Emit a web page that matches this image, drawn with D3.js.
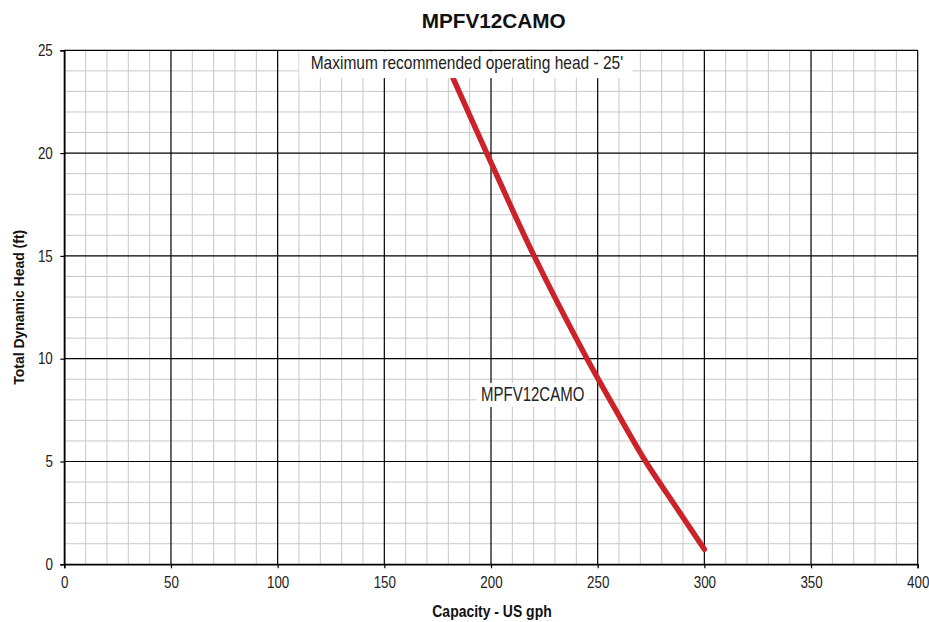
<!DOCTYPE html>
<html><head><meta charset="utf-8">
<script src="https://cdn.jsdelivr.net/npm/d3@7/dist/d3.min.js"></script>
<style>
body{margin:0;background:#fff;}
text{font-family:"Liberation Sans",Arial,sans-serif;}
</style></head>
<body><svg id="c" width="929" height="622"></svg>
<script>
const title = "MPFV12CAMO";
const seriesName = "MPFV12CAMO";
const xLabel = "Capacity - US gph";
const yLabel = "Total Dynamic Head (ft)";
const annotation = "Maximum recommended operating head - 25'";
const xTicks = [0, 50, 100, 150, 200, 250, 300, 350, 400];
const yTicks = [0, 5, 10, 15, 20, 25];
const flow = [180.7, 198, 220.2, 245, 258.5, 272.5, 286, 300];
const head = [24.0, 20, 15, 10, 7.5, 5, 2.9, 0.73];

const svg = d3.select("#c");
const m = {l:64.3, r:917.7, t:50.3, b:564.3};
const x = d3.scaleLinear().domain([0,400]).range([m.l, m.r]);
const y = d3.scaleLinear().domain([0,25]).range([m.b, m.t]);

function condense(sel, f){
  sel.each(function(){
    const w = this.getComputedTextLength();
    d3.select(this).attr("textLength", w*f).attr("lengthAdjust","spacingAndGlyphs");
  });
}

// minor grid
const gMinor = svg.append("g").attr("stroke","#c8c8c8").attr("stroke-width",1);
d3.range(0,401,10).forEach(v=>{ if(v%50) gMinor.append("line").attr("x1",x(v)).attr("x2",x(v)).attr("y1",y(0)).attr("y2",y(25)); });
d3.range(0,26,1).forEach(v=>{ if(v%5) gMinor.append("line").attr("x1",x(0)).attr("x2",x(400)).attr("y1",y(v)).attr("y2",y(v)); });
// major grid
const gMajor = svg.append("g").attr("stroke","#000").attr("stroke-width",1.2);
xTicks.forEach(v=>gMajor.append("line").attr("x1",x(v)).attr("x2",x(v)).attr("y1",y(0)).attr("y2",y(25)));
yTicks.forEach(v=>gMajor.append("line").attr("x1",x(0)).attr("x2",x(400)).attr("y1",y(v)).attr("y2",y(v)));

// axes
const xa = svg.append("g").attr("transform",`translate(0,${y(0)})`)
  .call(d3.axisBottom(x).tickValues(xTicks).tickSize(4).tickPadding(8).tickFormat(d3.format("d")));
const ya = svg.append("g").attr("transform",`translate(${x(0)},0)`)
  .call(d3.axisLeft(y).tickValues(yTicks).tickSize(4).tickPadding(7.5).tickFormat(d3.format("d")));
[xa,ya].forEach(a=>{
  a.select(".domain").attr("stroke","#000").attr("stroke-width",1.5);
  a.selectAll(".tick line").attr("stroke","#000").attr("stroke-width",1.2);
  a.selectAll("text").attr("font-size",16).attr("fill","#222")
   .attr("font-family",'"Liberation Sans",Arial,sans-serif');
  condense(a.selectAll("text"), 0.835);
});

// curve
const pts = flow.map((f,i)=>[f, head[i]]);
svg.append("path").datum(pts)
  .attr("d", d3.line().x(d=>x(d[0])).y(d=>y(d[1])).curve(d3.curveCatmullRom.alpha(0.5)))
  .attr("fill","none").attr("stroke","#cc2229").attr("stroke-width",5.5).attr("stroke-linecap","round");

// annotation box
const ann = svg.append("g");
ann.append("rect").attr("x",299.3).attr("y",y(25)+1).attr("width",333.4).attr("height",26.8).attr("fill","#fff");
ann.append("text").attr("x",310.7).attr("y",69).attr("font-size",19).attr("fill","#222")
  .attr("textLength",312.5).attr("lengthAdjust","spacingAndGlyphs").text(annotation);

// series label
const lab = svg.append("g");
lab.append("rect").attr("x",476.7).attr("y",383).attr("width",111.3).attr("height",24).attr("fill","#fff");
lab.append("text").attr("x",481).attr("y",401).attr("font-size",19.5).attr("fill","#222")
  .attr("textLength",103.3).attr("lengthAdjust","spacingAndGlyphs").text(seriesName);

// title & labels
svg.append("text").attr("x",421.7).attr("y",27.7)
  .attr("font-size",21).attr("font-weight","bold").attr("fill","#111")
  .attr("textLength",144).attr("lengthAdjust","spacingAndGlyphs").text(title);
svg.append("text").attr("x",432.3).attr("y",616.7)
  .attr("font-size",16.5).attr("font-weight","bold").attr("fill","#111")
  .attr("textLength",119.4).attr("lengthAdjust","spacingAndGlyphs").text(xLabel);
svg.append("text").attr("transform",`translate(24,${(y(0)+y(25))/2}) rotate(-90)`).attr("text-anchor","middle")
  .attr("font-size",15.5).attr("font-weight","bold").attr("fill","#111")
  .attr("textLength",155).attr("lengthAdjust","spacingAndGlyphs").text(yLabel);
</script></body></html>
